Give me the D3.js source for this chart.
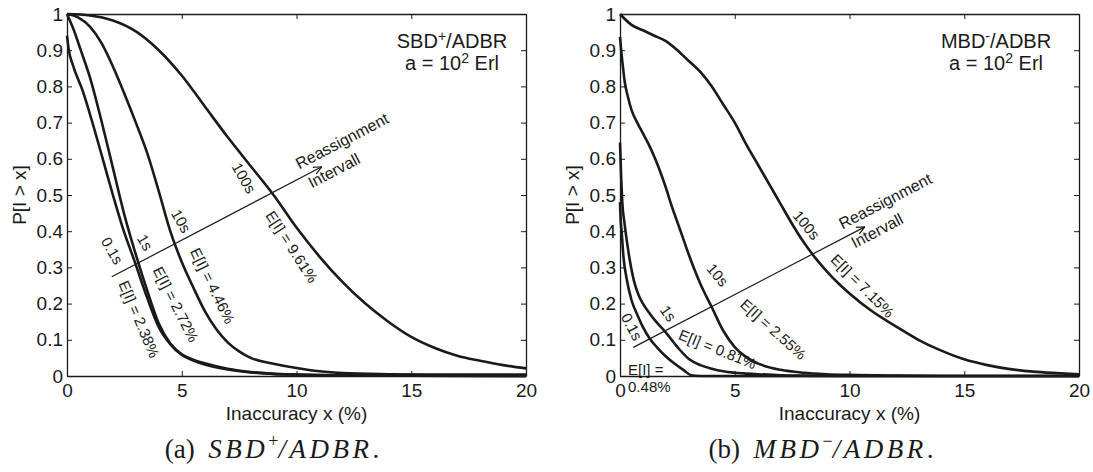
<!DOCTYPE html>
<html>
<head>
<meta charset="utf-8">
<script src="https://cdn.jsdelivr.net/npm/d3@7"></script>
<style>
  html, body { margin: 0; padding: 0; background: #fff; }
  svg { display: block; }
  text { font-family: "Liberation Sans", Arial, Helvetica, sans-serif; fill: #1a1a1a; }
  .cap { font-family: "Liberation Serif", "Times New Roman", serif; }
</style>
</head>
<body>
<svg id="fig" width="1093" height="472"></svg>
<script>
// ---- axes ----
const xTickValues = [0, 5, 10, 15, 20];
const yTickValues = [0, 0.1, 0.2, 0.3, 0.4, 0.5, 0.6, 0.7, 0.8, 0.9, 1];
const yTickLabels = ["0", "0.1", "0.2", "0.3", "0.4", "0.5", "0.6", "0.7", "0.8", "0.9", "1"];

// ---- reassignment intervals and mean inaccuracies ----
const intervalNames = ["100s", "10s", "1s", "0.1s"];
const sbdMeans = ["9.61%", "4.46%", "2.72%", "2.38%"];
const mbdMeans = ["7.15%", "2.55%", "0.81%", "0.48%"];

// ---- SBD+/ADBR: P[I > x] per reassignment interval ----
const sbdX100 = [0, 1, 2, 3, 4, 5, 6, 7, 8, 9, 10, 11, 12, 13, 14, 15, 16, 17, 18, 19, 20];
const sbdY100 = [1, 0.996, 0.982, 0.952, 0.9, 0.83, 0.745, 0.66, 0.58, 0.5, 0.41, 0.33, 0.26, 0.2, 0.15, 0.108, 0.078, 0.056, 0.042, 0.03, 0.021];

const sbdX10 = [0, 0.5, 1, 1.5, 2, 2.5, 3, 3.5, 4, 4.5, 5, 5.5, 6, 6.5, 7, 7.5, 8, 9, 10, 11, 12, 14, 16, 18, 20];
const sbdY10 = [1, 0.99, 0.965, 0.92, 0.855, 0.78, 0.7, 0.615, 0.51, 0.4, 0.315, 0.245, 0.18, 0.13, 0.093, 0.068, 0.05, 0.034, 0.022, 0.013, 0.008, 0.005, 0.004, 0.004, 0.004];

const sbdX1 = [0, 0.3, 0.6, 1, 1.5, 2, 2.5, 3, 3.5, 4, 4.5, 5, 5.5, 6, 7, 8, 9, 10, 12, 15, 20];
const sbdY1 = [1, 0.955, 0.9, 0.825, 0.705, 0.575, 0.445, 0.335, 0.235, 0.145, 0.09, 0.06, 0.045, 0.035, 0.02, 0.011, 0.006, 0.004, 0.002, 0.001, 0];

const sbdX01 = [0, 0.08, 0.25, 0.7, 1.2, 1.6, 2, 2.4, 2.95, 3.5, 4, 4.5, 5, 5.5, 6, 7, 8, 9, 10, 12, 15, 20];
const sbdY01 = [0.94, 0.9, 0.86, 0.785, 0.68, 0.59, 0.5, 0.415, 0.316, 0.215, 0.135, 0.088, 0.058, 0.043, 0.032, 0.018, 0.01, 0.006, 0.004, 0.002, 0.001, 0];

// ---- MBD-/ADBR: P[I > x] per reassignment interval ----
const mbdX100 = [0, 0.5, 1, 1.5, 2, 2.5, 3, 3.5, 4, 4.5, 5, 5.5, 6, 6.5, 7, 7.5, 8, 8.5, 9, 9.5, 10, 11, 12, 13, 14, 15, 16, 17, 18, 19, 20];
const mbdY100 = [1, 0.97, 0.955, 0.94, 0.925, 0.9, 0.87, 0.84, 0.8, 0.75, 0.7, 0.64, 0.585, 0.53, 0.475, 0.42, 0.37, 0.327, 0.29, 0.257, 0.228, 0.178, 0.138, 0.1, 0.07, 0.046, 0.03, 0.019, 0.012, 0.008, 0.005];

const mbdX10 = [0, 0.05, 0.1, 0.2, 0.35, 0.5, 0.75, 1, 1.25, 1.5, 1.75, 2, 2.25, 2.5, 2.75, 3, 3.5, 4, 4.5, 5, 5.5, 6, 7, 8, 9, 10, 12, 14, 20];
const mbdY10 = [0.937, 0.9, 0.87, 0.815, 0.77, 0.735, 0.7, 0.67, 0.64, 0.605, 0.565, 0.52, 0.47, 0.425, 0.38, 0.335, 0.255, 0.19, 0.125, 0.08, 0.052, 0.035, 0.017, 0.009, 0.005, 0.003, 0.001, 0, 0];

const mbdX1 = [0, 0.05, 0.1, 0.2, 0.4, 0.6, 0.8, 1, 1.3, 1.6, 2, 2.5, 3, 3.5, 4, 4.5, 5, 6, 7, 8, 10, 20];
const mbdY1 = [0.645, 0.55, 0.48, 0.42, 0.33, 0.265, 0.225, 0.2, 0.172, 0.148, 0.12, 0.08, 0.047, 0.03, 0.02, 0.013, 0.009, 0.005, 0.002, 0.001, 0, 0];

const mbdX01 = [0, 0.03, 0.07, 0.15, 0.3, 0.5, 0.75, 1, 1.3, 1.6, 2, 2.4, 2.8, 3.1, 3.5, 20];
const mbdY01 = [0.48, 0.43, 0.4, 0.33, 0.265, 0.21, 0.17, 0.135, 0.103, 0.08, 0.054, 0.033, 0.015, 0.002, 0, 0];

// ---- "Reassignment Intervall" arrows (start, tip) in data units ----
const sbdArrow = [[1.95, 0.274], [11.1, 0.578]];
const mbdArrow = [[0.58, 0.079], [10.67, 0.412]];

// ---- layout ----
const svg = d3.select("#fig");
const W = 459, TOP = 14, BOTTOM = 376;
const ink = "#1a1a1a";

function drawPanel(cfg) {
  const x = d3.scaleLinear().domain([0, 20]).range([cfg.left, cfg.left + W]);
  const y = d3.scaleLinear().domain([0, 1]).range([BOTTOM, TOP]);
  const g = svg.append("g");

  // curves
  const line = d3.line().x(d => x(d[0])).y(d => y(d[1])).curve(d3.curveMonotoneX);
  cfg.series.forEach(s => {
    g.append("path")
      .attr("d", line(d3.zip(s[0], s[1])))
      .attr("fill", "none")
      .attr("stroke", ink)
      .attr("stroke-width", 2.6)
      .attr("stroke-linejoin", "round");
  });

  // box axes with inward ticks
  const styleAxis = sel => {
    sel.select(".domain").attr("stroke", ink).attr("stroke-width", 1.3);
    sel.selectAll(".tick line").attr("stroke", ink).attr("stroke-width", 1);
    sel.attr("font-size", 19);
  };
  g.append("g").attr("transform", `translate(0,${BOTTOM})`)
    .call(d3.axisBottom(x).tickValues(xTickValues).tickFormat(d3.format("d"))
      .tickSizeInner(-5).tickSizeOuter(0).tickPadding(8))
    .call(styleAxis);
  g.append("g").attr("transform", `translate(0,${TOP})`)
    .call(d3.axisTop(x).tickValues(xTickValues).tickFormat("")
      .tickSizeInner(-5).tickSizeOuter(0))
    .call(styleAxis);
  g.append("g").attr("transform", `translate(${cfg.left},0)`)
    .call(d3.axisLeft(y).tickValues(yTickValues).tickFormat((d, i) => yTickLabels[i])
      .tickSizeInner(-5).tickSizeOuter(0).tickPadding(4))
    .call(styleAxis);
  g.append("g").attr("transform", `translate(${cfg.left + W},0)`)
    .call(d3.axisRight(y).tickValues(yTickValues).tickFormat("")
      .tickSizeInner(-5).tickSizeOuter(0))
    .call(styleAxis);

  // axis titles
  g.append("text")
    .attr("transform", `translate(${cfg.left - 48},${(TOP + BOTTOM) / 2}) rotate(-90)`)
    .attr("text-anchor", "middle").attr("dy", "0.35em")
    .attr("font-size", 19).text("P[I > x]");
  g.append("text")
    .attr("x", cfg.left + W / 2).attr("y", 420)
    .attr("text-anchor", "middle").attr("font-size", 19)
    .text("Inaccuracy x (%)");

  // scheme annotation
  const t1 = g.append("text").attr("x", cfg.noteX).attr("y", 48)
    .attr("text-anchor", "middle").attr("font-size", 20);
  t1.append("tspan").text(cfg.scheme);
  t1.append("tspan").attr("dy", -7).attr("font-size", 14).text(cfg.schemeSup);
  t1.append("tspan").attr("dy", 7).text("/ADBR");
  const t2 = g.append("text").attr("x", cfg.noteX).attr("y", 70)
    .attr("text-anchor", "middle").attr("font-size", 20);
  t2.append("tspan").text("a = 10");
  t2.append("tspan").attr("dy", -7).attr("font-size", 14).text("2");
  t2.append("tspan").attr("dy", 7).text(" Erl");

  // reassignment arrow
  const p0 = [x(cfg.arrow[0][0]), y(cfg.arrow[0][1])];
  const p1 = [x(cfg.arrow[1][0]), y(cfg.arrow[1][1])];
  const ang = Math.atan2(p1[1] - p0[1], p1[0] - p0[0]);
  const dir = [Math.cos(ang), Math.sin(ang)];
  const nrm = [-dir[1], dir[0]];
  g.append("line")
    .attr("x1", p0[0]).attr("y1", p0[1]).attr("x2", p1[0]).attr("y2", p1[1])
    .attr("stroke", ink).attr("stroke-width", 1.2);
  [0.42, -0.42].forEach(da => {
    g.append("line")
      .attr("x1", p1[0]).attr("y1", p1[1])
      .attr("x2", p1[0] + 9 * Math.cos(ang + Math.PI + da))
      .attr("y2", p1[1] + 9 * Math.sin(ang + Math.PI + da))
      .attr("stroke", ink).attr("stroke-width", 1.2);
  });
  const deg = ang * 180 / Math.PI;
  const along = (a, b) => [p1[0] + a * dir[0] + b * nrm[0], p1[1] + a * dir[1] + b * nrm[1]];
  const rA = along(30, -13.5), rB = along(9, 9);
  g.append("text").attr("transform", `translate(${rA[0]},${rA[1]}) rotate(${deg})`)
    .attr("text-anchor", "middle").attr("dy", "0.35em").attr("font-size", 16)
    .text("Reassignment");
  g.append("text").attr("transform", `translate(${rB[0]},${rB[1]}) rotate(${deg})`)
    .attr("text-anchor", "middle").attr("dy", "0.35em").attr("font-size", 16)
    .text("Intervall");

  // rotated interval / mean labels
  cfg.labels.forEach(l => {
    g.append("text")
      .attr("transform", `translate(${x(l.at[0])},${y(l.at[1])}) rotate(${l.rot})`)
      .attr("text-anchor", "middle").attr("dy", "0.35em").attr("font-size", 15)
      .text(l.text);
  });
  (cfg.flat || []).forEach(l => {
    g.append("text").attr("x", x(l.at[0])).attr("y", y(l.at[1]))
      .attr("font-size", 15).text(l.text);
  });

  // caption
  const c = g.append("text").attr("class", "cap")
    .attr("x", cfg.capX).attr("y", 458).attr("text-anchor", "middle")
    .attr("font-size", 27);
  c.append("tspan").text(cfg.capTag + "\u2002");
  c.append("tspan").attr("font-style", "italic").attr("letter-spacing", 3.5).text(cfg.scheme);
  c.append("tspan").attr("dy", -11).attr("font-size", 18).text(cfg.capSup);
  c.append("tspan").attr("dy", 11).attr("font-style", "italic").attr("letter-spacing", 3.5).text("/ADBR");
  c.append("tspan").text(".");
}

drawPanel({
  left: 67,
  noteX: 452,
  capX: 272,
  capTag: "(a)",
  scheme: "SBD",
  schemeSup: "+",
  capSup: "+",
  arrow: sbdArrow,
  series: [[sbdX100, sbdY100], [sbdX10, sbdY10], [sbdX1, sbdY1], [sbdX01, sbdY01]],
  labels: [
    { text: intervalNames[0], at: [7.71, 0.547], rot: 60 },
    { text: "E[I] = " + sbdMeans[0], at: [9.79, 0.357], rot: 57 },
    { text: intervalNames[1], at: [4.97, 0.428], rot: 60 },
    { text: "E[I] = " + sbdMeans[1], at: [6.34, 0.249], rot: 64 },
    { text: intervalNames[2], at: [3.40, 0.369], rot: 60 },
    { text: "E[I] = " + sbdMeans[2], at: [4.74, 0.198], rot: 63 },
    { text: intervalNames[3], at: [1.97, 0.346], rot: 60 },
    { text: "E[I] = " + sbdMeans[3], at: [3.14, 0.157], rot: 67 }
  ]
});

drawPanel({
  left: 620,
  noteX: 996,
  capX: 821,
  capTag: "(b)",
  scheme: "MBD",
  schemeSup: "-",
  capSup: "\u2212",
  arrow: mbdArrow,
  series: [[mbdX100, mbdY100], [mbdX10, mbdY10], [mbdX1, mbdY1], [mbdX01, mbdY01]],
  labels: [
    { text: intervalNames[0], at: [8.12, 0.417], rot: 50 },
    { text: "E[I] = " + mbdMeans[0], at: [10.57, 0.249], rot: 45 },
    { text: intervalNames[1], at: [4.25, 0.279], rot: 50 },
    { text: "E[I] = " + mbdMeans[1], at: [6.68, 0.129], rot: 42 },
    { text: intervalNames[2], at: [2.1, 0.173], rot: 55 },
    { text: "E[I] = " + mbdMeans[2], at: [4.25, 0.074], rot: 22 },
    { text: intervalNames[3], at: [0.51, 0.136], rot: 62 }
  ],
  flat: [
    { text: "E[I] =", at: [0.35, 0.003] },
    { text: mbdMeans[3], at: [0.35, -0.044] }
  ]
});
</script>
</body>
</html>
